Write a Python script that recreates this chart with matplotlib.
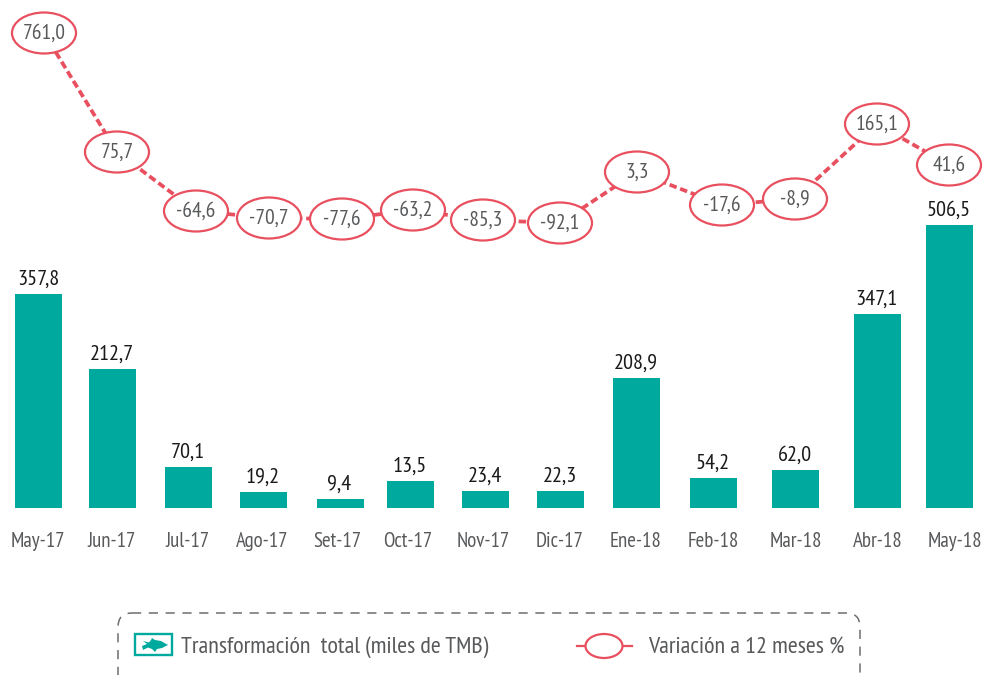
import matplotlib
matplotlib.use("Agg")
import matplotlib.pyplot as plt
from matplotlib.patches import Ellipse, FancyBboxPatch, Polygon, Rectangle

# ---- data ----
categories = ["May-17", "Jun-17", "Jul-17", "Ago-17", "Set-17", "Oct-17", "Nov-17",
              "Dic-17", "Ene-18", "Feb-18", "Mar-18", "Abr-18", "May-18"]
bar_labels = ["357,8", "212,7", "70,1", "19,2", "9,4", "13,5", "23,4",
              "22,3", "208,9", "54,2", "62,0", "347,1", "506,5"]
# drawn bar heights as they appear (the source chart is not to scale with its labels)
bar_heights = [214, 139, 41, 16, 9, 27, 17, 17, 130, 30, 38, 194, 283]
var_labels = ["761,0", "75,7", "-64,6", "-70,7", "-77,6", "-63,2", "-85,3",
              "-92,1", "3,3", "-17,6", "-8,9", "165,1", "41,6"]
# drawn level of the variation series above the bar baseline
var_levels = [475, 356, 297, 290, 289, 298, 288, 285, 336, 303, 309, 384, 343]

# layout of the hand-placed source chart
bar_centres = [38.5, 112.5, 188.5, 263, 340, 410, 485, 560, 636, 713, 795.5, 877, 949]
tick_centres = [38, 112, 188, 262, 337, 408, 483, 560, 636, 713, 796, 878, 955]
var_centres = [44, 117, 196, 269, 342, 413, 483, 560, 637, 722, 795, 877, 949]

TEAL = "#00a99d"
RED = "#e9505f"
GREY = "#58595b"
plt.rcParams["font.family"] = ["PT Sans Narrow", "Lato", "DejaVu Sans"]

W, H, BASE = 983, 675, 508
fig = plt.figure(figsize=(W / 100, H / 100), dpi=100, facecolor="white")
ax = fig.add_axes([0, (H - BASE) / H, 1, BASE / H])
ax.set_xlim(0, W)
ax.set_ylim(0, BASE)
for s in ax.spines.values():
    s.set_visible(False)
ax.set_yticks([])
ax.set_xticks(tick_centres, categories)
ax.tick_params(axis="x", length=0, pad=17, labelsize=15, labelcolor=GREY)

ax.bar(bar_centres, bar_heights, width=47, color=TEAL, zorder=2)
for x, h, t in zip(bar_centres, bar_heights, bar_labels):
    ax.text(x - 0.5, h + 5, t, ha="center", va="bottom", fontsize=16, color="#1a1a1a")

ax.plot(var_centres, var_levels, color=RED, lw=2.7, ls=(0, (2.0, 1.0)), zorder=3)
for x, y, t in zip(var_centres, var_levels, var_labels):
    ax.add_patch(Ellipse((x, y), 64, 41, fc="white", ec=RED, lw=1.6, zorder=4))
    ax.text(x, y, t, ha="center", va="center", fontsize=15.5, color=GREY, zorder=5)

# ---- legend, in pixel coordinates ----
lg = fig.add_axes([0, 0, 1, 1], facecolor="none")
lg.set_xlim(0, W)
lg.set_ylim(H, 0)
lg.axis("off")
lg.add_patch(FancyBboxPatch((118, 613), 742, 80, boxstyle="round,pad=0,rounding_size=14",
                            fc="none", ec="#6d6e71", lw=1.1, ls=(0, (6, 5))))
lg.add_patch(Rectangle((135, 634), 37, 21, fc="white", ec=TEAL, lw=1.7))
fish = [(142, 646), (147, 644), (143, 641), (149, 642.5), (151, 640), (152, 638), (155, 640),
        (161, 641), (168, 645), (162, 648), (157, 649), (155, 652), (152, 649), (148, 647.5),
        (143, 650)]
lg.add_patch(Polygon(fish, closed=True, fc=TEAL, ec="none"))
lg.text(181, 647.5, "Transformación  total (miles de TMB)", fontsize=17.4, color=GREY,
        va="center", ha="left")
lg.plot([577, 632], [646, 646], color=RED, lw=1.6, zorder=2)
lg.add_patch(Ellipse((604, 646), 37, 24, fc="white", ec=RED, lw=1.6, zorder=3))
lg.text(648, 648, "Variación a 12 meses %", fontsize=17.4, color=GREY, va="center", ha="left")

fig.savefig("out.png", dpi=100)
